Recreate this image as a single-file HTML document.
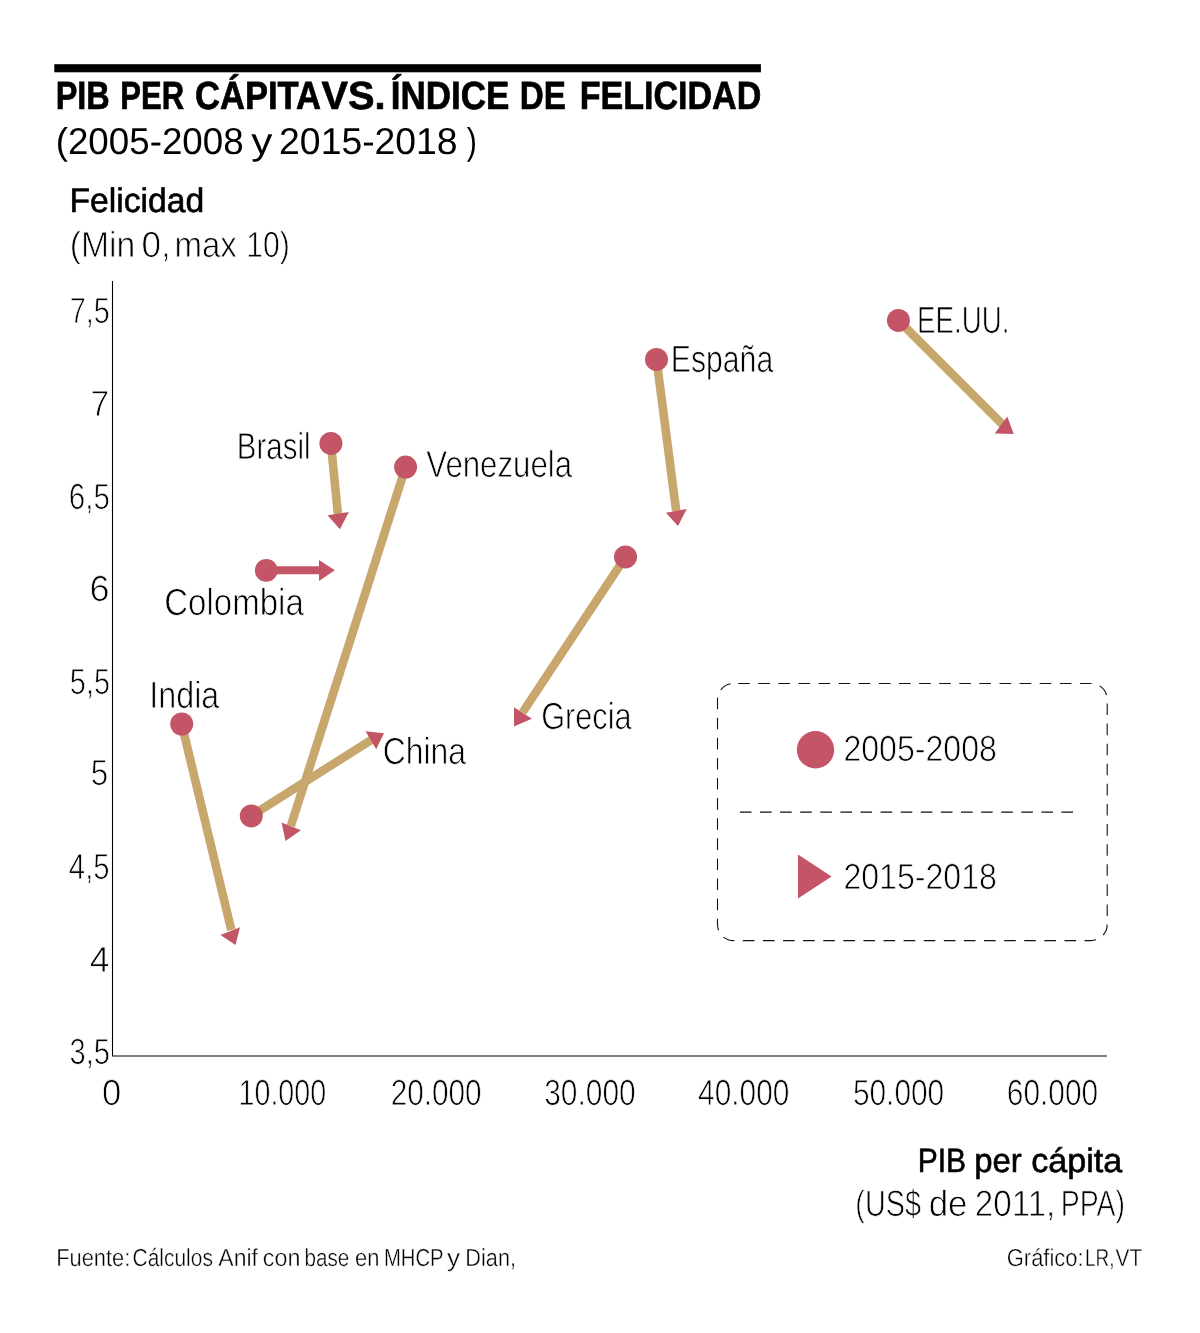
<!DOCTYPE html>
<html lang="es">
<head>
<meta charset="utf-8">
<title>PIB per cápita vs. Índice de felicidad</title>
<style>
html,body{margin:0;padding:0;background:#fff;}
body{width:1200px;height:1333px;overflow:hidden;}
svg{display:block;}
text{font-family:"Liberation Sans",sans-serif;fill:#000;text-rendering:geometricPrecision;}
.b{font-weight:bold;fill:#000;stroke:#000;stroke-width:0.7px;}
.m{stroke:#000;stroke-width:0.6px;}
.l{stroke:#fff;stroke-width:0.8px;}
.s{stroke:#fff;stroke-width:0.4px;}
</style>
</head>
<body>
<svg width="1200" height="1333" viewBox="0 0 1200 1333">
<rect x="0" y="0" width="1200" height="1333" fill="#ffffff"/>
<rect x="54.3" y="64.2" width="706.6" height="8.1" fill="#000"/>
<polyline points="112.5,281 112.5,1056 1107,1056" fill="none" stroke="#000" stroke-width="1.08" stroke-linejoin="miter"/>
<line x1="898.4" y1="320.4" x2="1003.1" y2="425" stroke="#C7A76C" stroke-width="8.6"/>
<line x1="656.5" y1="359.4" x2="676.2" y2="511" stroke="#C7A76C" stroke-width="8.6"/>
<line x1="330.9" y1="443.4" x2="337.9" y2="514" stroke="#C7A76C" stroke-width="8.6"/>
<line x1="405.6" y1="467.1" x2="290.8" y2="826" stroke="#C7A76C" stroke-width="8.6"/>
<line x1="625.5" y1="556.9" x2="522.5" y2="712.5" stroke="#C7A76C" stroke-width="8.6"/>
<line x1="181.7" y1="724" x2="231.3" y2="930" stroke="#C7A76C" stroke-width="8.6"/>
<line x1="251.3" y1="815.9" x2="373" y2="738.8" stroke="#C7A76C" stroke-width="8.6"/>
<line x1="266.25" y1="570.3" x2="321" y2="570.3" stroke="#C35567" stroke-width="8.1"/>
<polygon points="319,560 319,581 334.9,570.3" fill="#C35567"/>
<circle cx="266.25" cy="570.4" r="11.35" fill="#C35567"/>
<polygon points="994.75,433.5 1007.25,416.5 1013.75,434" fill="#C35567"/>
<circle cx="898.4" cy="320.4" r="11.5" fill="#C35567"/>
<polygon points="665.9,512.7 686.7,509.1 678,526.1" fill="#C35567"/>
<circle cx="656.5" cy="359.4" r="11.5" fill="#C35567"/>
<polygon points="327.5,515.2 348.9,512 339.9,529.2" fill="#C35567"/>
<circle cx="330.9" cy="443.4" r="11.5" fill="#C35567"/>
<polygon points="281.6,822.5 300.9,830.3 285.5,840.9" fill="#C35567"/>
<circle cx="405.6" cy="467.1" r="11.5" fill="#C35567"/>
<polygon points="514,707.2 514,726.5 531.9,718.7" fill="#C35567"/>
<circle cx="625.5" cy="556.9" r="11.5" fill="#C35567"/>
<polygon points="220.5,935.1 240,927.3 235.5,944.9" fill="#C35567"/>
<circle cx="181.7" cy="724" r="11.5" fill="#C35567"/>
<polygon points="365.5,731.2 384,733.2 376.2,749.2" fill="#C35567"/>
<circle cx="251.3" cy="815.9" r="11.5" fill="#C35567"/>
<path d="M738.2,683.5 H1091.2 A16,16 0 0 1 1107.2,699.5 V924.6 A16,16 0 0 1 1091.2,940.6 H733.5 A16,16 0 0 1 717.5,924.6 V699.5 A16,16 0 0 1 733.5,683.5 Z" fill="none" stroke="#111" stroke-width="1.1" stroke-dasharray="11.6 8.5"/>
<line x1="739.9" y1="812.1" x2="1074.3" y2="812.1" stroke="#111" stroke-width="1.1" stroke-dasharray="11.6 8.5"/>
<circle cx="815.5" cy="749.8" r="18.7" fill="#C35567"/>
<polygon points="798,854.5 798,898.6 831.6,876.5" fill="#C35567"/>
<text class="b" y="108.8" font-size="39.37"><tspan x="55.71" textLength="54.09" lengthAdjust="spacingAndGlyphs">PIB</tspan> <tspan x="120.26" textLength="63.80" lengthAdjust="spacingAndGlyphs">PER</tspan> <tspan x="195.02" textLength="124.77" lengthAdjust="spacingAndGlyphs">CÁPITA</tspan> <tspan x="321.52" textLength="63.99" lengthAdjust="spacingAndGlyphs">VS.</tspan> <tspan x="390.77" textLength="118.62" lengthAdjust="spacingAndGlyphs">ÍNDICE</tspan> <tspan x="519.80" textLength="46.15" lengthAdjust="spacingAndGlyphs">DE</tspan> <tspan x="579.67" textLength="181.58" lengthAdjust="spacingAndGlyphs">FELICIDAD</tspan></text>
<text y="154.3" font-size="37.36"><tspan x="55.69" textLength="187.96" lengthAdjust="spacingAndGlyphs">(2005-2008</tspan> <tspan x="251.37" textLength="21.17" lengthAdjust="spacingAndGlyphs">y</tspan> <tspan x="279.12" textLength="178.53" lengthAdjust="spacingAndGlyphs">2015-2018</tspan> <tspan x="466.69" textLength="10.09" lengthAdjust="spacingAndGlyphs">)</tspan></text>
<text class="m" x="69.51" y="212.0" font-size="34.21" textLength="134.70" lengthAdjust="spacingAndGlyphs">Felicidad</text>
<text class="l" y="256.6" font-size="36.25"><tspan x="69.80" textLength="65.47" lengthAdjust="spacingAndGlyphs">(Min</tspan> <tspan x="141.42" textLength="29.30" lengthAdjust="spacingAndGlyphs">0,</tspan> <tspan x="174.48" textLength="62.38" lengthAdjust="spacingAndGlyphs">max</tspan> <tspan x="246.27" textLength="43.60" lengthAdjust="spacingAndGlyphs">10)</tspan></text>
<text class="l" x="69.74" y="322.9" font-size="36.36" textLength="40.03" lengthAdjust="spacingAndGlyphs">7,5</text>
<text class="l" x="90.57" y="415.9" font-size="36.36" textLength="18.61" lengthAdjust="spacingAndGlyphs">7</text>
<text class="l" x="68.83" y="508.8" font-size="36.36" textLength="41.06" lengthAdjust="spacingAndGlyphs">6,5</text>
<text class="l" x="89.44" y="600.6" font-size="36.36" textLength="20.06" lengthAdjust="spacingAndGlyphs">6</text>
<text class="l" x="69.86" y="693.7" font-size="36.36" textLength="40.14" lengthAdjust="spacingAndGlyphs">5,5</text>
<text class="l" x="90.77" y="785.4" font-size="36.36" textLength="17.47" lengthAdjust="spacingAndGlyphs">5</text>
<text class="l" x="68.87" y="878.7" font-size="36.36" textLength="40.73" lengthAdjust="spacingAndGlyphs">4,5</text>
<text class="l" x="89.73" y="971.9" font-size="36.36" textLength="19.79" lengthAdjust="spacingAndGlyphs">4</text>
<text class="l" x="69.57" y="1063.7" font-size="36.36" textLength="40.51" lengthAdjust="spacingAndGlyphs">3,5</text>
<text class="l" x="102.11" y="1104.7" font-size="36.36" textLength="19.27" lengthAdjust="spacingAndGlyphs">0</text>
<text class="l" x="238.56" y="1104.7" font-size="36.36" textLength="87.57" lengthAdjust="spacingAndGlyphs">10.000</text>
<text class="l" x="390.65" y="1104.7" font-size="36.36" textLength="90.97" lengthAdjust="spacingAndGlyphs">20.000</text>
<text class="l" x="544.24" y="1104.7" font-size="36.36" textLength="91.50" lengthAdjust="spacingAndGlyphs">30.000</text>
<text class="l" x="698.08" y="1104.7" font-size="36.36" textLength="91.25" lengthAdjust="spacingAndGlyphs">40.000</text>
<text class="l" x="852.94" y="1104.7" font-size="36.36" textLength="91.25" lengthAdjust="spacingAndGlyphs">50.000</text>
<text class="l" x="1006.85" y="1104.7" font-size="36.36" textLength="91.22" lengthAdjust="spacingAndGlyphs">60.000</text>
<text class="l" x="917.08" y="333.1" font-size="37.83" textLength="92.25" lengthAdjust="spacingAndGlyphs">EE.UU.</text>
<text class="l" x="670.77" y="372.2" font-size="37.98" textLength="102.42" lengthAdjust="spacingAndGlyphs">España</text>
<text class="l" x="236.86" y="458.6" font-size="37.58" textLength="73.60" lengthAdjust="spacingAndGlyphs">Brasil</text>
<text class="l" x="426.29" y="476.7" font-size="37.58" textLength="145.85" lengthAdjust="spacingAndGlyphs">Venezuela</text>
<text class="l" x="164.18" y="614.6" font-size="37.66" textLength="139.70" lengthAdjust="spacingAndGlyphs">Colombia</text>
<text class="l" x="149.36" y="707.9" font-size="37.98" textLength="69.94" lengthAdjust="spacingAndGlyphs">India</text>
<text class="l" x="382.69" y="763.7" font-size="37.67" textLength="83.28" lengthAdjust="spacingAndGlyphs">China</text>
<text class="l" x="541.23" y="728.5" font-size="37.67" textLength="90.30" lengthAdjust="spacingAndGlyphs">Grecia</text>
<text class="l" x="843.39" y="761.3" font-size="36.36" textLength="153.45" lengthAdjust="spacingAndGlyphs">2005-2008</text>
<text class="l" x="843.39" y="889.3" font-size="36.36" textLength="153.45" lengthAdjust="spacingAndGlyphs">2015-2018</text>
<text class="m" y="1171.9" font-size="33.77"><tspan x="917.72" textLength="48.35" lengthAdjust="spacingAndGlyphs">PIB</tspan> <tspan x="974.15" textLength="47.60" lengthAdjust="spacingAndGlyphs">per</tspan> <tspan x="1031.30" textLength="91.00" lengthAdjust="spacingAndGlyphs">cápita</tspan></text>
<text class="l" y="1215.7" font-size="36.74"><tspan x="855.35" textLength="65.55" lengthAdjust="spacingAndGlyphs">(US$</tspan> <tspan x="928.65" textLength="38.90" lengthAdjust="spacingAndGlyphs">de</tspan> <tspan x="974.86" textLength="80.46" lengthAdjust="spacingAndGlyphs">2011,</tspan> <tspan x="1060.66" textLength="64.38" lengthAdjust="spacingAndGlyphs">PPA)</tspan></text>
<text class="s" y="1265.8" font-size="24.69"><tspan x="56.14" textLength="74.14" lengthAdjust="spacingAndGlyphs">Fuente:</tspan> <tspan x="132.60" textLength="80.28" lengthAdjust="spacingAndGlyphs">Cálculos</tspan> <tspan x="218.33" textLength="39.64" lengthAdjust="spacingAndGlyphs">Anif</tspan> <tspan x="262.86" textLength="37.58" lengthAdjust="spacingAndGlyphs">con</tspan> <tspan x="304.46" textLength="44.81" lengthAdjust="spacingAndGlyphs">base</tspan> <tspan x="355.02" textLength="24.36" lengthAdjust="spacingAndGlyphs">en</tspan> <tspan x="383.92" textLength="59.33" lengthAdjust="spacingAndGlyphs">MHCP</tspan> <tspan x="447.13" textLength="13.12" lengthAdjust="spacingAndGlyphs">y</tspan> <tspan x="465.33" textLength="50.65" lengthAdjust="spacingAndGlyphs">Dian,</tspan></text>
<text class="s" y="1266.0" font-size="24.51"><tspan x="1006.79" textLength="76.78" lengthAdjust="spacingAndGlyphs">Gráfico:</tspan> <tspan x="1084.89" textLength="29.55" lengthAdjust="spacingAndGlyphs">LR,</tspan> <tspan x="1115.50" textLength="26.65" lengthAdjust="spacingAndGlyphs">VT</tspan></text>
</svg>
</body>
</html>
